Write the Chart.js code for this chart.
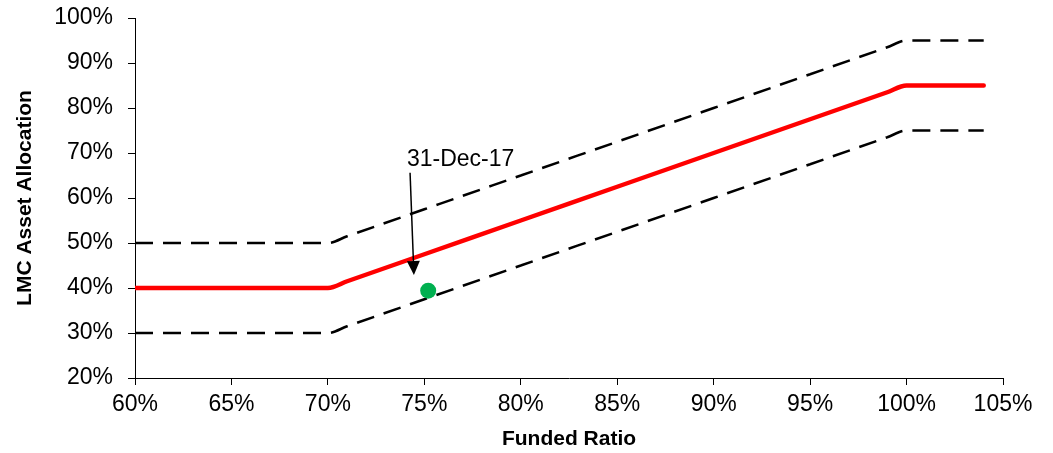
<!DOCTYPE html>
<html>
<head>
<meta charset="utf-8">
<script src="https://cdn.jsdelivr.net/npm/chart.js@4"></script>
<style>
  body { margin: 0; background: #fff; }
</style>
</head>
<body>
<canvas id="glidePath" width="1053" height="453"></canvas>
<script>
// glide path: LMC allocation vs funded ratio, with +/-10% corridor
const fundedRatio = [60, 65, 69, 70, 71, 75, 80, 85, 90, 95, 99, 100, 101, 104]
const targetLmc   = [40, 40, 40, 40, 41.5, 47.5, 55, 62.5, 70, 77.5, 83.5, 85, 85, 85]
const upperBand   = [50, 50, 50, 50, 51.5, 57.5, 65, 72.5, 80, 87.5, 93.5, 95, 95, 95]
const lowerBand   = [30, 30, 30, 30, 31.5, 37.5, 45, 52.5, 60, 67.5, 73.5, 75, 75, 75]

// current position
const currentRatio = [75.2]
const currentLmc = [39.4]

// callout text and arrow, in axis units
const calloutText = '31-Dec-17'
const calloutAt = [74.1, 67.1]
const arrowFrom = [74.26, 65.6]
const arrowTo = [74.46, 42.9]

const toPoints = (xs, ys) => xs.map((x, i) => ({ x: x, y: ys[i] }))

const callout = {
  id: 'callout',
  afterDatasetsDraw(chart) {
    const { ctx, scales: { x, y } } = chart
    const x0 = x.getPixelForValue(arrowFrom[0]), y0 = y.getPixelForValue(arrowFrom[1])
    const x1 = x.getPixelForValue(arrowTo[0]), y1 = y.getPixelForValue(arrowTo[1])
    const ang = Math.atan2(y1 - y0, x1 - x0)
    const headLen = 14, headHalf = 6.5
    const bx = x1 - headLen * Math.cos(ang), by = y1 - headLen * Math.sin(ang)
    ctx.save()
    ctx.strokeStyle = '#000'
    ctx.fillStyle = '#000'
    ctx.lineWidth = 1.5
    ctx.beginPath()
    ctx.moveTo(x0, y0)
    ctx.lineTo(bx, by)
    ctx.stroke()
    ctx.beginPath()
    ctx.moveTo(x1, y1)
    ctx.lineTo(bx + headHalf * Math.sin(ang), by - headHalf * Math.cos(ang))
    ctx.lineTo(bx - headHalf * Math.sin(ang), by + headHalf * Math.cos(ang))
    ctx.closePath()
    ctx.fill()
    ctx.font = '23px "Liberation Sans", Arial, sans-serif'
    ctx.textAlign = 'left'
    ctx.textBaseline = 'alphabetic'
    ctx.fillText(calloutText, x.getPixelForValue(calloutAt[0]), y.getPixelForValue(calloutAt[1]))
    ctx.restore()
  }
}

Chart.defaults.font.family = '"Liberation Sans", Arial, sans-serif'
Chart.defaults.color = '#000'

const axisGrid = { display: true, drawOnChartArea: false, drawTicks: true, tickLength: 7, color: '#000', lineWidth: 1 }

new Chart(document.getElementById('glidePath'), {
  type: 'scatter',
  data: {
    datasets: [
      {
        data: toPoints(currentRatio, currentLmc),
        pointRadius: 8,
        backgroundColor: '#00B050',
        borderWidth: 0,
        order: 0
      },
      {
        type: 'line',
        data: toPoints(fundedRatio, targetLmc),
        borderColor: '#FF0000',
        borderWidth: 4.5,
        borderCapStyle: 'round',
        cubicInterpolationMode: 'monotone',
        pointRadius: 0,
        order: 1
      },
      {
        type: 'line',
        data: toPoints(fundedRatio, upperBand),
        borderColor: '#000',
        borderWidth: 2.5,
        borderDash: [18, 10],
        cubicInterpolationMode: 'monotone',
        pointRadius: 0,
        order: 2
      },
      {
        type: 'line',
        data: toPoints(fundedRatio, lowerBand),
        borderColor: '#000',
        borderWidth: 2.5,
        borderDash: [18, 10],
        cubicInterpolationMode: 'monotone',
        pointRadius: 0,
        order: 2
      }
    ]
  },
  options: {
    responsive: false,
    animation: false,
    layout: { padding: { top: 18, right: 50, left: 0, bottom: 0 } },
    plugins: { legend: { display: false }, tooltip: { enabled: false } },
    scales: {
      x: {
        type: 'linear',
        min: 60,
        max: 105,
        grid: axisGrid,
        border: { color: '#000', width: 1 },
        ticks: { stepSize: 5, padding: 6, font: { size: 23 }, callback: v => v + '%' },
        title: { display: true, text: 'Funded Ratio', font: { size: 21, weight: 'bold' }, padding: { top: 0, bottom: 1 } },
        afterFit: s => { s.height = 75 }
      },
      y: {
        min: 20,
        max: 100,
        grid: axisGrid,
        border: { color: '#000', width: 1 },
        ticks: { stepSize: 10, padding: 15, font: { size: 23 }, callback: v => v + '%' },
        title: { display: true, text: 'LMC Asset Allocation', font: { size: 21, weight: 'bold' }, padding: { top: 13, bottom: 0 } },
        afterFit: s => {
          s.width = 135
          // keep the label padding from pushing the plot top down
          s.paddingTop = 10
          s.paddingBottom = 10
        }
      }
    }
  },
  plugins: [callout]
})
</script>
</body>
</html>
